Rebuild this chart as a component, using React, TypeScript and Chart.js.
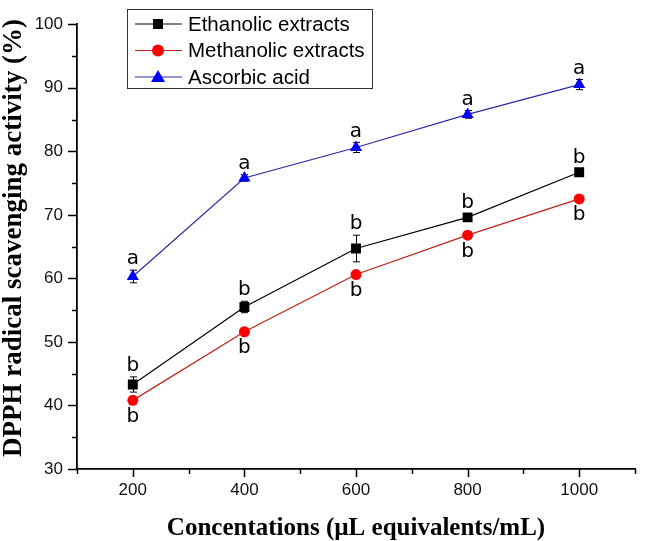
import React, { useEffect, useRef } from "react";
import { Chart, registerables } from "chart.js";

Chart.register(...registerables);

const concentrations = [200, 400, 600, 800, 1000];
const ethanolic = [43.3, 55.5, 64.7, 69.6, 76.7];
const ethanolicErr = [1.2, 0.9, 2.1, 0.5, 0.5];
const methanolic = [40.8, 51.6, 60.6, 66.8, 72.5];
const methanolicErr = [0.5, 0.5, 0.5, 0.5, 0.5];
const ascorbic = [60.3, 75.8, 80.6, 85.8, 90.5];
const ascorbicErr = [1.0, 0.5, 0.8, 0.6, 0.8];
const ethanolicLetters = ["b", "b", "b", "b", "b"];
const methanolicLetters = ["b", "b", "b", "b", "b"];
const ascorbicLetters = ["a", "a", "a", "a", "a"];
const xMajorTicks = [200, 400, 600, 800, 1000];
const xMinorTicks = [100, 300, 500, 700, 900, 1100];
const yMajorTicks = [30, 40, 50, 60, 70, 80, 90, 100];
const yMinorTicks = [35, 45, 55, 65, 75, 85, 95];

const seriesNames = ["Ethanolic extracts", "Methanolic extracts", "Ascorbic acid"];
const lineColors = ["#000000", "#c0201a", "#2a2aa8"];
const markerColors = ["#000000", "#ff0000", "#0000ff"];
const markerStyles = ["rect", "circle", "triangle"];
const markerRadii = [7, 5.5, 7];

const allVals = [ethanolic, methanolic, ascorbic];
const allErrs = [ethanolicErr, methanolicErr, ascorbicErr];
const allLetters = [ethanolicLetters, methanolicLetters, ascorbicLetters];
const letterBelow = [false, true, false];

const overlayPlugin = {
  id: "overlay",
  beforeDatasetsDraw(chart: any) {
    const ctx = chart.ctx;
    const xs = chart.scales.x;
    const ys = chart.scales.y;
    ctx.save();
    ctx.strokeStyle = "#000";
    ctx.lineWidth = 1;
    for (let s = 0; s < 3; s++) {
      for (let i = 0; i < concentrations.length; i++) {
        const x = Math.round(xs.getPixelForValue(concentrations[i])) + 0.5;
        const yt = ys.getPixelForValue(allVals[s][i] + allErrs[s][i]);
        const yb = ys.getPixelForValue(allVals[s][i] - allErrs[s][i]);
        ctx.beginPath();
        ctx.moveTo(x, yt);
        ctx.lineTo(x, yb);
        ctx.moveTo(x - 3.5, yt);
        ctx.lineTo(x + 3.5, yt);
        ctx.moveTo(x - 3.5, yb);
        ctx.lineTo(x + 3.5, yb);
        ctx.stroke();
      }
    }
    ctx.restore();
  },
  afterDatasetsDraw(chart: any) {
    const ctx = chart.ctx;
    const xs = chart.scales.x;
    const ys = chart.scales.y;
    ctx.save();
    ctx.fillStyle = "#000";
    ctx.font = "20px 'DejaVu Sans'";
    ctx.textAlign = "center";
    for (let s = 0; s < 3; s++) {
      for (let i = 0; i < concentrations.length; i++) {
        const x = xs.getPixelForValue(concentrations[i]);
        if (letterBelow[s]) {
          const y = ys.getPixelForValue(allVals[s][i] - allErrs[s][i]);
          ctx.textBaseline = "top";
          ctx.fillText(allLetters[s][i], x, y + 3);
        } else {
          const y = ys.getPixelForValue(allVals[s][i] + allErrs[s][i]);
          ctx.textBaseline = "bottom";
          ctx.fillText(allLetters[s][i], x, y - 1);
        }
      }
    }
    ctx.restore();
  },
  afterDraw(chart: any) {
    const ctx = chart.ctx;
    const area = chart.chartArea;
    const xs = chart.scales.x;
    const ys = chart.scales.y;
    ctx.save();
    // tick marks (major longer, minor shorter)
    ctx.strokeStyle = "#000";
    ctx.lineWidth = 1.5;
    ctx.beginPath();
    for (const v of xMajorTicks) {
      const x = Math.round(xs.getPixelForValue(v)) + 0.5;
      ctx.moveTo(x, area.bottom);
      ctx.lineTo(x, area.bottom + 8);
    }
    for (const v of xMinorTicks) {
      const x = Math.round(xs.getPixelForValue(v)) + 0.5;
      ctx.moveTo(x, area.bottom);
      ctx.lineTo(x, area.bottom + 5);
    }
    for (const v of yMajorTicks) {
      const y = Math.round(ys.getPixelForValue(v)) + 0.5;
      ctx.moveTo(area.left, y);
      ctx.lineTo(area.left - 9, y);
    }
    for (const v of yMinorTicks) {
      const y = Math.round(ys.getPixelForValue(v)) + 0.5;
      ctx.moveTo(area.left, y);
      ctx.lineTo(area.left - 5, y);
    }
    ctx.stroke();
    // axis titles
    ctx.fillStyle = "#000";
    ctx.font = "bold 25px 'Liberation Serif'";
    ctx.textAlign = "center";
    ctx.textBaseline = "middle";
    ctx.fillText("Concentations (\u00b5L equivalents/mL)", (area.left + area.right) / 2, 529);
    ctx.save();
    ctx.translate(14, 238);
    ctx.rotate(-Math.PI / 2);
    ctx.font = "bold 27px 'Liberation Serif'";
    ctx.fillText("DPPH radical scavenging activity (%)", 0, 0);
    ctx.restore();
    // legend
    const bx = 127, by = 9, bw = 245, bh = 79;
    ctx.fillStyle = "#fff";
    ctx.fillRect(bx, by, bw, bh);
    ctx.strokeStyle = "#333";
    ctx.lineWidth = 1;
    ctx.strokeRect(bx + 0.5, by + 0.5, bw, bh);
    ctx.font = "20.5px 'Liberation Sans'";
    ctx.textAlign = "left";
    ctx.textBaseline = "middle";
    for (let s = 0; s < 3; s++) {
      const y = 24 + s * 26.5;
      ctx.strokeStyle = lineColors[s];
      ctx.beginPath();
      ctx.moveTo(135, y);
      ctx.lineTo(182, y);
      ctx.stroke();
      ctx.fillStyle = markerColors[s];
      if (markerStyles[s] === "rect") {
        ctx.fillRect(153, y - 5, 10, 10);
      } else if (markerStyles[s] === "circle") {
        ctx.beginPath();
        ctx.arc(158, y, 6, 0, Math.PI * 2);
        ctx.fill();
      } else {
        ctx.beginPath();
        ctx.moveTo(158, y - 7);
        ctx.lineTo(165, y + 5);
        ctx.lineTo(151, y + 5);
        ctx.closePath();
        ctx.fill();
      }
      ctx.fillStyle = "#000";
      ctx.fillText(seriesNames[s], 188, y + 1);
    }
    ctx.restore();
  },
};

export default function App() {
  const ref = useRef<HTMLCanvasElement>(null);
  useEffect(() => {
    if (!ref.current) return;
    const mk = (data: number[], s: number) => ({
      label: seriesNames[s],
      data: concentrations.map((c, i) => ({ x: c, y: data[i] })),
      borderColor: lineColors[s],
      backgroundColor: markerColors[s],
      pointBackgroundColor: markerColors[s],
      pointBorderColor: markerColors[s],
      pointStyle: markerStyles[s],
      pointRadius: markerRadii[s],
      pointBorderWidth: 0,
      borderWidth: 1.2,
      tension: 0,
    });
    const chart = new Chart(ref.current, {
      type: "line",
      data: {
        datasets: [mk(ascorbic, 2), mk(methanolic, 1), mk(ethanolic, 0)],
      },
      options: {
        animation: false,
        responsive: false,
        layout: { padding: { top: 10, right: 6, left: 0, bottom: 0 } },
        plugins: { legend: { display: false }, tooltip: { enabled: false } },
        scales: {
          x: {
            type: "linear",
            min: 100,
            max: 1100,
            border: { color: "#000", width: 1.8 },
            grid: { display: false, drawTicks: false },
            ticks: {
              stepSize: 100,
              color: "#111",
              font: { family: "'Liberation Sans'", size: 17 },
              padding: 11,
              maxRotation: 0,
              autoSkip: false,
              callback: (v: any) => (xMajorTicks.includes(Number(v)) ? String(v) : ""),
            },
            afterFit: (scale: any) => {
              scale.height = 72;
            },
          },
          y: {
            type: "linear",
            min: 30,
            max: 100,
            border: { color: "#000", width: 1.8 },
            grid: { display: false, drawTicks: false },
            ticks: {
              stepSize: 5,
              color: "#111",
              font: { family: "'Liberation Sans'", size: 17 },
              padding: 14,
              autoSkip: false,
              callback: (v: any) => (yMajorTicks.includes(Number(v)) ? String(v) : ""),
            },
            afterFit: (scale: any) => {
              scale.width = 77;
            },
          },
        },
      },
      plugins: [overlayPlugin],
    });
    return () => chart.destroy();
  }, []);
  return (
    <div style={{ position: "fixed", left: 0, top: 0, width: 646, height: 541, background: "#fff" }}>
      <canvas ref={ref} width={646} height={541} style={{ width: 646, height: 541 }} />
    </div>
  );
}
